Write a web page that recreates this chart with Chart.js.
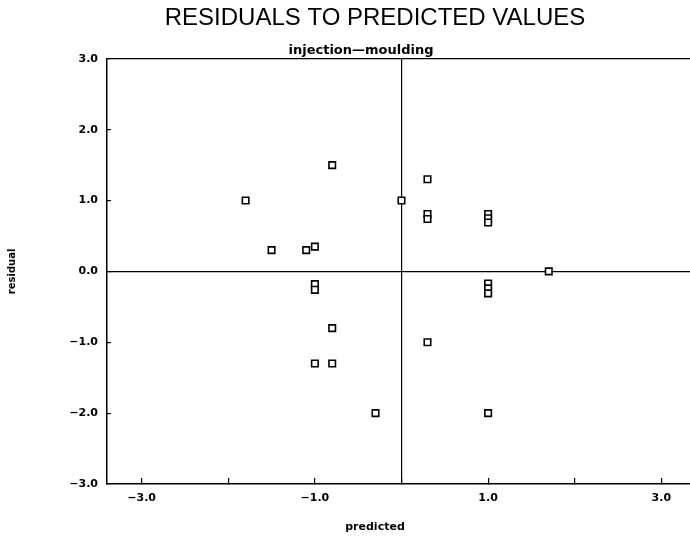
<!DOCTYPE html>
<html>
<head>
<meta charset="utf-8">
<script src="https://cdn.jsdelivr.net/npm/chart.js@4"></script>
<style>
  html, body { margin: 0; padding: 0; background: #fff; overflow: hidden; }
  #wrap { width: 750px; height: 538px; position: relative; }
</style>
</head>
<body>
<div id="wrap"><canvas id="residualChart"></canvas></div>
<script>
// data
const predicted = [-1.8, -0.8, 0.0, -1.5, -1.1, -1.0, -1.0, -1.0, -0.8, -1.0, -0.8, -0.3,
                   0.3, 0.3, 0.3, 1.0, 1.0, 1.0, 1.7, 1.0, 1.0, 1.0, 0.3, 1.0];
const residual = [1.0, 1.5, 1.0, 0.3, 0.3, 0.35, -0.18, -0.26, -0.8, -1.3, -1.3, -2.0,
                  1.3, 0.81, 0.74, 0.81, 0.75, 0.69, 0.0, -0.17, -0.24, -0.31, -1.0, -2.0];

const xTickValues = [-3, -2, -1, 0, 1, 2, 3];
const xTickLabels = ['\u22123.0', '', '\u22121.0', '', '1.0', '', '3.0'];
const yTickValues = [-3, -2, -1, 0, 1, 2, 3];
const yTickLabels = ['\u22123.0', '\u22122.0', '\u22121.0', '0.0', '1.0', '2.0', '3.0'];

const chartTitle = 'RESIDUALS TO PREDICTED VALUES';
const chartSubtitle = 'injection\u2014moulding';
const xTitle = 'predicted';
const yTitle = 'residual';

Chart.defaults.color = '#000';
Chart.defaults.font.family = "'DejaVu Sans', sans-serif";

// subtitle and x label are not centred on the plot in the original, so draw them here
const extraTextPlugin = {
    id: 'extraText',
    afterDraw(chart) {
        const ctx = chart.ctx;
        ctx.save();
        ctx.fillStyle = '#000';
        ctx.textAlign = 'center';
        ctx.textBaseline = 'middle';
        ctx.font = "bold 13px 'DejaVu Sans'";
        ctx.fillText(chartSubtitle, 361, 51);
        ctx.font = "bold 11px 'DejaVu Sans'";
        ctx.fillText(xTitle, 375, 527);
        ctx.restore();
    }
};

const points = predicted.map((x, i) => ({ x: x, y: residual[i] }));

const ctx = document.getElementById('residualChart').getContext('2d');
new Chart(ctx, {
    type: 'scatter',
    data: {
        datasets: [{
            data: points,
            pointStyle: 'rect',
            pointRadius: 4.6,
            pointBorderWidth: 1.6,
            pointBorderColor: '#000',
            pointBackgroundColor: '#fff'
        }]
    },
    options: {
        responsive: true,
        maintainAspectRatio: false,
        animation: false,
        layout: { padding: 0 },
        plugins: {
            legend: { display: false },
            tooltip: { enabled: false },
            title: {
                display: true,
                text: chartTitle,
                font: { family: "'Liberation Sans'", size: 24, weight: 'normal' },
                padding: { top: 4, bottom: 26 }
            }
        },
        scales: {
            x: {
                type: 'linear',
                min: -3.4,
                max: 3.4,
                afterBuildTicks: s => { s.ticks = xTickValues.map(v => ({ value: v })); },
                afterFit: s => { s.height = 54; },
                ticks: {
                    padding: 14,
                    font: { size: 11, weight: 'bold' },
                    callback: (v, i) => xTickLabels[i]
                },
                grid: {
                    color: c => (c.tick && c.tick.value === 0) ? '#000' : 'rgba(0,0,0,0)',
                    tickColor: '#000',
                    tickLength: -6,
                    lineWidth: 1.2
                },
                border: { display: true, color: '#000', width: 1.5 }
            },
            y: {
                type: 'linear',
                min: -3,
                max: 3,
                afterBuildTicks: s => { s.ticks = yTickValues.map(v => ({ value: v })); },
                afterFit: s => { s.width = 107; },
                ticks: {
                    padding: 13,
                    font: { size: 11, weight: 'bold' },
                    callback: (v, i) => yTickLabels[i]
                },
                grid: {
                    color: c => (c.tick && (c.tick.value === 0 || c.tick.value === 3)) ? '#000' : 'rgba(0,0,0,0)',
                    tickColor: '#000',
                    tickLength: -4,
                    lineWidth: 1.2
                },
                border: { display: true, color: '#000', width: 1.5 },
                title: {
                    display: true,
                    text: yTitle,
                    font: { size: 10, weight: 'bold' },
                    padding: 6
                }
            },
            // empty right-hand axis, only keeps the plot's right edge past the window
            yRight: {
                type: 'linear',
                position: 'right',
                grid: { display: false },
                ticks: { display: false },
                border: { display: false },
                afterFit: s => { s.width = 54; }
            }
        }
    },
    plugins: [extraTextPlugin]
});
</script>
</body>
</html>
